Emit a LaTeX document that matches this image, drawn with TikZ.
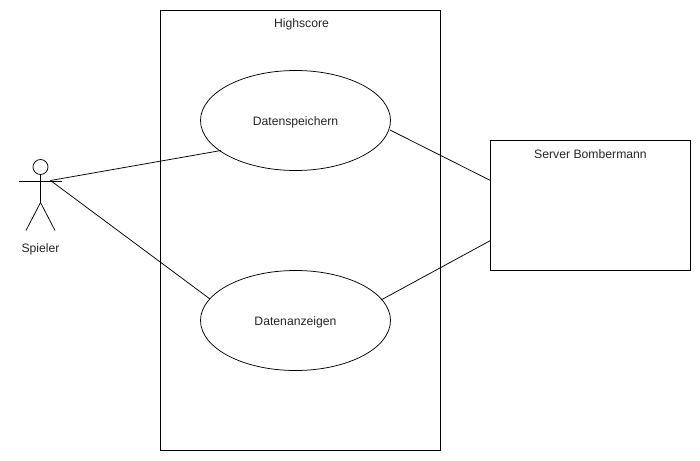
\documentclass[tikz,border=0pt]{standalone}
\usepackage{fontspec}
\setmainfont{Liberation Sans}
\usetikzlibrary{shapes.geometric}
\begin{document}
\begin{tikzpicture}[x=1pt,y=-1pt,
 every node/.style={font=\fontsize{12.2}{14}\selectfont,text=black!85},
 ln/.style={draw=black,line width=0.75pt},
 uc/.style={ellipse,draw=black,line width=0.75pt,fill=white,minimum width=190pt,minimum height=100pt,inner sep=0pt,text height=12pt,text depth=2.6pt}]
\useasboundingbox (0,0) rectangle (700,460);
\fill[white] (0,0) rectangle (700,460);
\node[rectangle,ln,minimum width=280pt,minimum height=440pt,inner sep=0pt] (sys) at (300.5,230.5) {};
\node[anchor=center] (syslabel) at (301.5,24.3) {Highscore};
\node[rectangle,ln,minimum width=200pt,minimum height=130pt,inner sep=0pt] (srv) at (590.5,205.5) {};
\node[anchor=center] (srvlabel) at (590.5,154.3) {Server Bombermann};
\node[uc] (save) at (295.5,120.5) {Datenspeichern};
\node[uc] (show) at (295.5,320.5) {Datenanzeigen};
\node[circle,ln,minimum size=15pt,inner sep=0pt] (head) at (40.5,167) {};
\coordinate (hip) at (40.5,202.5);
\coordinate (armL) at (19,181.5);
\coordinate (armR) at (62,181.5);
\coordinate (footL) at (26,230.5);
\coordinate (footR) at (55,230.5);
\coordinate (hub) at (50.5,180.5);
\draw[ln] (head.south) -- (hip);
\draw[ln] (armL) -- (armR);
\draw[ln] (hip) -- (footL);
\draw[ln] (hip) -- (footR);
\node (actor) at (40.5,249) {Spieler};
\coordinate (a1) at (221,150.5);
\coordinate (a2) at (210,299);
\coordinate (s1) at (390,130);
\coordinate (s2) at (381,300);
\coordinate (t1) at (490.5,180.5);
\coordinate (t2) at (490.5,240.5);
\draw[ln] (hub) -- (a1);
\draw[ln] (hub) -- (a2);
\draw[ln] (s1) -- (t1);
\draw[ln] (s2) -- (t2);
\end{tikzpicture}
\end{document}
